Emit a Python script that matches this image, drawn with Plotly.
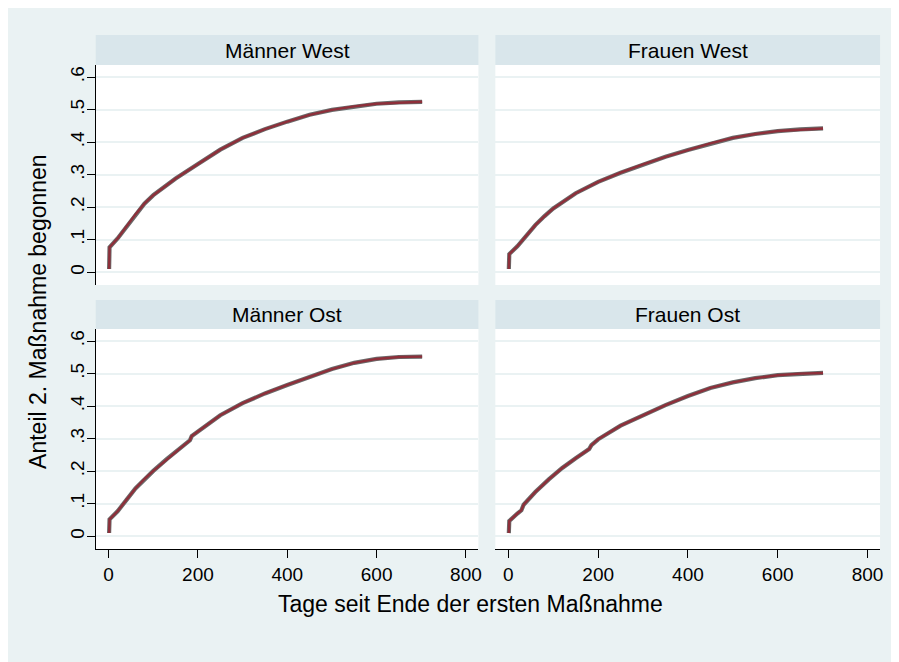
import plotly.graph_objects as go

# ---- data ----
panel_titles = ["Männer West", "Frauen West", "Männer Ost", "Frauen Ost"]

mw_x = [1, 2, 20, 40, 60, 80, 100, 150, 200, 250, 300, 350, 400, 450, 500, 550, 600, 650, 702]
mw_y = [0.01, 0.077, 0.104, 0.141, 0.178, 0.211, 0.237, 0.288, 0.333, 0.377, 0.413, 0.44, 0.463, 0.484, 0.499, 0.51, 0.518, 0.522, 0.524]

fw_x = [1, 2, 20, 30, 40, 60, 80, 100, 150, 200, 250, 300, 350, 400, 450, 500, 550, 600, 650, 701]
fw_y = [0.01, 0.056, 0.08, 0.097, 0.113, 0.145, 0.172, 0.196, 0.243, 0.278, 0.306, 0.332, 0.355, 0.376, 0.396, 0.413, 0.425, 0.434, 0.439, 0.442]

mo_x = [1, 2, 20, 30, 40, 60, 80, 100, 130, 160, 182, 186, 200, 250, 300, 350, 400, 450, 500, 550, 600, 650, 702]
mo_y = [0.01, 0.052, 0.077, 0.093, 0.112, 0.147, 0.176, 0.201, 0.237, 0.27, 0.295, 0.308, 0.322, 0.372, 0.409, 0.439, 0.465, 0.49, 0.514, 0.533, 0.545, 0.551, 0.552]

fo_x = [1, 2, 20, 29, 34, 60, 90, 120, 150, 180, 185, 200, 250, 300, 350, 400, 450, 500, 550, 600, 650, 701]
fo_y = [0.01, 0.047, 0.07, 0.08, 0.097, 0.136, 0.175, 0.21, 0.24, 0.268, 0.28, 0.298, 0.34, 0.372, 0.403, 0.431, 0.456, 0.473, 0.486, 0.495, 0.5, 0.502]

series = [(mw_x, mw_y), (fw_x, fw_y), (mo_x, mo_y), (fo_x, fo_y)]

y_ticks = [0, 0.1, 0.2, 0.3, 0.4, 0.5, 0.6]
y_ticklabels = ["0", ".1", ".2", ".3", ".4", ".5", ".6"]
x_ticks = [0, 200, 400, 600, 800]
x_ticklabels = ["0", "200", "400", "600", "800"]

x_title = "Tage seit Ende der ersten Maßnahme"
y_title = "Anteil 2. Maßnahme begonnen"

# ---- layout geometry (pixels in figure space) ----
W, H = 891, 654
BG = "#EAF2F3"
STRIP = "#D9E6EB"
RED = "#8E2F3A"
GRAY = "#6A6A6A"
FONT = "Liberation Sans, Arial, sans-serif"

def px(x):
    return x / W

def py(y):
    return 1 - y / H

cols = [(88, 472), (489, 875)]
rows = [(57, 277), (321, 541)]
strips = [(27, 57), (292, 321)]

fig = go.Figure()
layout = dict(
    width=W, height=H,
    margin=dict(l=0, r=0, t=0, b=0),
    paper_bgcolor=BG,
    plot_bgcolor="white",
    showlegend=False,
    font=dict(family=FONT, color="black", size=19),
)
shapes = []
annotations = []

for i, (xs, ys) in enumerate(series):
    r, c = divmod(i, 2)
    n = i + 1
    xa = "x" if n == 1 else f"x{n}"
    ya = "y" if n == 1 else f"y{n}"
    fig.add_trace(go.Scatter(x=xs, y=ys, mode="lines", xaxis=xa, yaxis=ya,
                             line=dict(color=GRAY, width=4.2), hoverinfo="skip"))
    fig.add_trace(go.Scatter(x=xs, y=ys, mode="lines", xaxis=xa, yaxis=ya,
                             line=dict(color=RED, width=2.4)))
    x0, x1 = cols[c]
    y0, y1 = rows[r]
    bottom = r == 1
    left = c == 0
    layout["xaxis" if n == 1 else f"xaxis{n}"] = dict(
        domain=[px(x0), px(x1)], anchor=ya, range=[-29, 828],
        showgrid=False, zeroline=False,
        showline=bottom, linecolor="black", linewidth=1.3,
        ticks="outside" if bottom else "", ticklen=8, tickwidth=1.3, tickcolor="black",
        tickvals=x_ticks, ticktext=x_ticklabels, showticklabels=bottom,
        tickfont=dict(size=19, family=FONT),
    )
    layout["yaxis" if n == 1 else f"yaxis{n}"] = dict(
        domain=[py(y1), py(y0)], anchor=xa, range=[-0.039, 0.637],
        showgrid=True, gridcolor=BG, gridwidth=1.6, zeroline=False,
        showline=left, linecolor="black", linewidth=1.3,
        ticks="outside" if left else "", ticklen=8, tickwidth=1.3, tickcolor="black",
        tickvals=y_ticks, ticktext=y_ticklabels, showticklabels=left,
        tickangle=-90, tickfont=dict(size=19, family=FONT),
        ticklabelstandoff=-5,
    )
    s0, s1 = strips[r]
    shapes.append(dict(type="rect", xref="paper", yref="paper",
                       x0=px(x0), x1=px(x1), y0=py(s1), y1=py(s0),
                       fillcolor=STRIP, line=dict(width=0), layer="above"))
    annotations.append(dict(text=panel_titles[i], xref="paper", yref="paper",
                            x=px((x0 + x1) / 2), y=py((s0 + s1) / 2),
                            xanchor="center", yanchor="middle", showarrow=False,
                            font=dict(size=21, family=FONT, color="black")))

annotations.append(dict(text=x_title, xref="paper", yref="paper", x=px(464), y=py(596),
                        xanchor="center", yanchor="middle", showarrow=False,
                        font=dict(size=23, family=FONT, color="black")))
annotations.append(dict(text=y_title, xref="paper", yref="paper", x=px(30), y=py(303),
                        xanchor="center", yanchor="middle", showarrow=False, textangle=-90,
                        font=dict(size=23, family=FONT, color="black")))

layout["shapes"] = shapes
layout["annotations"] = annotations
fig.update_layout(**layout)
fig.write_html("out.html")
